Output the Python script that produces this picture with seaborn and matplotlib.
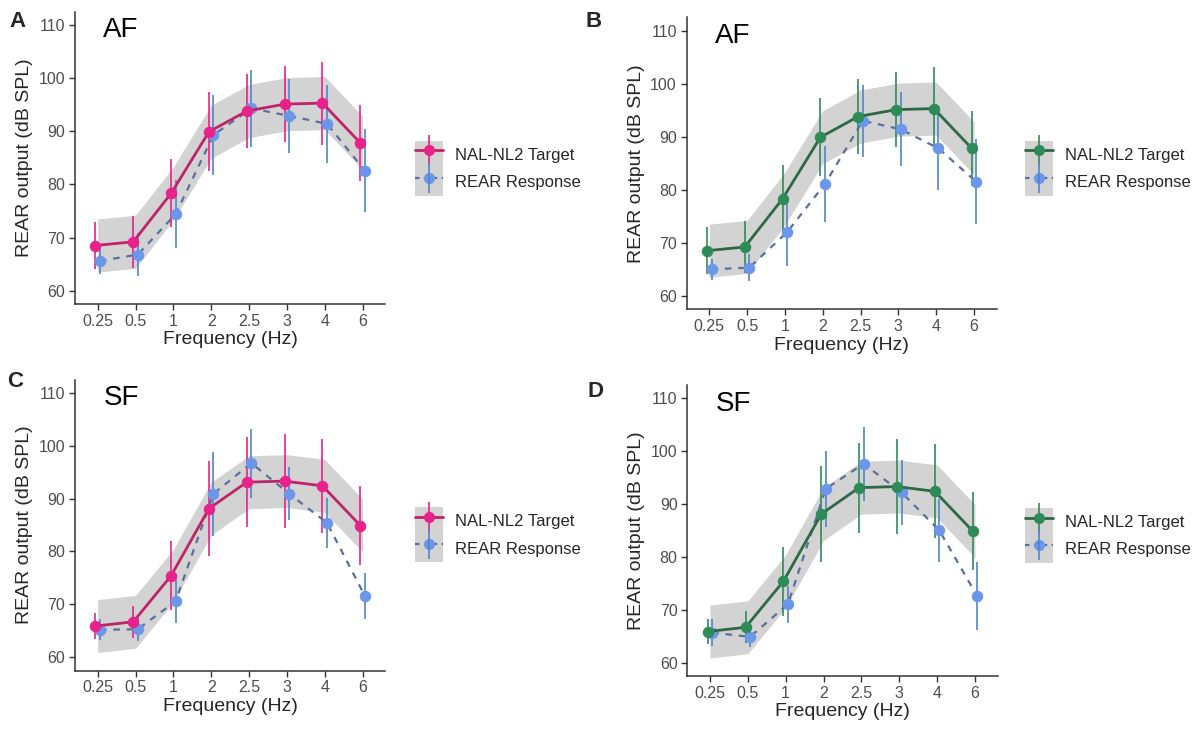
import numpy as np
import pandas as pd
import seaborn as sns
import matplotlib.pyplot as plt
from matplotlib.patches import Patch
from matplotlib.lines import Line2D

# data
freq_labels = ["0.25", "0.5", "1", "2", "2.5", "3", "4", "6"]

# NAL-NL2 targets (mean +/- sd) and the +/-5 dB target band
af_target = [68.5, 69.2, 78.3, 89.9, 93.8, 95.1, 95.3, 87.8]
af_target_err = [4.4, 4.9, 6.4, 7.4, 7.0, 7.1, 7.8, 7.1]
af_band_low = [63.5, 64.2, 73.3, 84.9, 88.8, 90.1, 90.3, 82.8]
af_band_high = [73.5, 74.2, 83.3, 94.9, 98.8, 100.1, 100.3, 92.8]

sf_target = [65.9, 66.7, 75.4, 88.1, 93.1, 93.3, 92.4, 84.9]
sf_target_err = [2.4, 3.0, 6.5, 9.0, 8.5, 8.9, 8.9, 7.4]
sf_band_low = [60.9, 61.7, 70.4, 83.1, 88.1, 88.3, 87.4, 79.9]
sf_band_high = [70.9, 71.7, 80.4, 93.1, 98.1, 98.3, 97.4, 89.9]

# REAR responses per panel
rear_a = [65.6, 66.8, 74.4, 89.3, 94.3, 92.9, 91.4, 82.6]
rear_a_err = [2.5, 4.0, 6.4, 7.5, 7.2, 6.9, 7.3, 7.8]
rear_b = [65.0, 65.3, 72.0, 81.1, 93.0, 91.4, 87.8, 81.5]
rear_b_err = [2.0, 2.5, 6.3, 7.1, 6.8, 7.0, 7.9, 8.0]
rear_c = [65.2, 65.3, 70.6, 90.9, 96.7, 90.9, 85.4, 71.6]
rear_c_err = [2.0, 2.2, 4.2, 7.9, 6.5, 5.0, 4.8, 4.3]
rear_d = [65.7, 64.9, 71.1, 92.9, 97.6, 92.2, 85.0, 72.6]
rear_d_err = [2.5, 2.0, 3.5, 7.2, 7.0, 6.2, 6.0, 6.5]

sns.set_theme(style="ticks")
plt.rcParams["font.family"] = ["Liberation Sans", "DejaVu Sans"]

PINK, PINK_LINE = "#E8228A", "#BE2468"
GREEN, GREEN_LINE = "#2E8B57", "#2C6944"
BLUE, BLUE_LINE, BLUE_BAR = "#6A97EA", "#5B6F9C", "#4F86C6"
BAND = "#D3D3D3"
DODGE = 0.06

fig = plt.figure(figsize=(12.03, 7.30), dpi=100)


def draw_panel(rect, target, target_err, band_low, band_high, rear, rear_err,
               tcol, tline, title, letter, letter_xy, legend_xy):
    ax = fig.add_axes(rect)
    x = np.arange(len(freq_labels))
    df = pd.DataFrame({"pos": x, "target": target, "rear": rear})

    ax.fill_between(df["pos"], band_low, band_high, color=BAND, lw=0, zorder=1)
    ax.errorbar(df["pos"] - DODGE, df["target"], yerr=target_err, fmt="none",
                ecolor=tcol, elinewidth=1.2, zorder=2)
    ax.errorbar(df["pos"] + DODGE, df["rear"], yerr=rear_err, fmt="none",
                ecolor=BLUE_BAR, elinewidth=1.2, zorder=2)
    sns.lineplot(x=df["pos"] + DODGE, y=df["rear"], ax=ax, color=BLUE_LINE,
                 lw=1.6, linestyle=(0, (3, 3)), marker="o", markersize=7.5,
                 markerfacecolor=BLUE, markeredgecolor=BLUE, zorder=3)
    sns.lineplot(x=df["pos"] - DODGE, y=df["target"], ax=ax, color=tline,
                 lw=2.0, marker="o", markersize=7.5, markerfacecolor=tcol,
                 markeredgecolor=tcol, zorder=4)

    ax.set_xlim(-0.6, 7.6)
    ax.set_ylim(57.5, 112.5)
    ax.set_xticks(x)
    ax.set_xticklabels(freq_labels)
    ax.set_yticks([60, 70, 80, 90, 100, 110])
    ax.set_xlabel("Frequency (Hz)", fontsize=14, labelpad=2)
    ax.set_ylabel("REAR output (dB SPL)", fontsize=14, labelpad=4)
    ax.tick_params(length=4, width=1, color="#333333", labelcolor="#4D4D4D",
                   labelsize=11.5, pad=3)
    for side in ["top", "right"]:
        ax.spines[side].set_visible(False)
    for side in ["left", "bottom"]:
        ax.spines[side].set_color("#333333")
        ax.spines[side].set_linewidth(1.1)

    ax.text(0.15, 109, title, fontsize=20, ha="left", va="center", color="black")
    fig.text(letter_xy[0], letter_xy[1], letter, fontsize=16, fontweight="bold",
             ha="left", va="center")

    h_target = (Patch(facecolor=BAND, edgecolor="none"),
                Line2D([], [], color=tline, lw=2.0, marker="o", markersize=7,
                       markerfacecolor=tcol, markeredgecolor=tcol),
                Line2D([], [], color=tcol, lw=0, marker="|", markersize=22,
                       markeredgewidth=1.2))
    h_rear = (Patch(facecolor=BAND, edgecolor="none"),
              Line2D([], [], color=BLUE_LINE, lw=1.6, linestyle=(0, (2, 2)),
                     marker="o", markersize=7, markerfacecolor=BLUE,
                     markeredgecolor=BLUE),
              Line2D([], [], color=BLUE_BAR, lw=0, marker="|", markersize=22,
                     markeredgewidth=1.2))
    fig.legend([h_target, h_rear], ["NAL-NL2 Target", "REAR Response"],
               loc="upper left", bbox_to_anchor=legend_xy, frameon=False,
               fontsize=12, handlelength=1.7, handleheight=2.15,
               handletextpad=0.7, labelspacing=0.0, borderpad=0,
               borderaxespad=0, numpoints=1)
    return ax


draw_panel([0.0623, 0.5836, 0.2580, 0.4004], af_target, af_target_err,
           af_band_low, af_band_high, rear_a, rear_a_err, PINK, PINK_LINE,
           "AF", "A", (0.008, 0.971), (0.345, 0.807))
draw_panel([0.5707, 0.5767, 0.2578, 0.3995], af_target, af_target_err,
           af_band_low, af_band_high, rear_b, rear_b_err, GREEN, GREEN_LINE,
           "AF", "B", (0.487, 0.970), (0.852, 0.807))
draw_panel([0.0623, 0.0815, 0.2580, 0.3986], sf_target, sf_target_err,
           sf_band_low, sf_band_high, rear_c, rear_c_err, PINK, PINK_LINE,
           "SF", "C", (0.006, 0.478), (0.345, 0.305))
draw_panel([0.5713, 0.0740, 0.2580, 0.3986], sf_target, sf_target_err,
           sf_band_low, sf_band_high, rear_d, rear_d_err, GREEN, GREEN_LINE,
           "SF", "D", (0.488, 0.464), (0.852, 0.304))

fig.savefig("out.png", dpi=100)
